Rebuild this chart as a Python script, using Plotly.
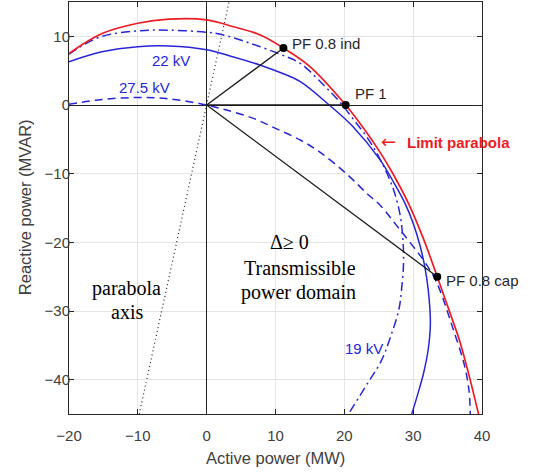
import plotly.graph_objects as go

# ---- data ----
red_x = [-20, -15.2, -10, -5.5, 0, 3.9, 7.8, 11.15, 15.0, 20.2, 22.8, 25.2, 27.0, 29.4, 31.5, 33.5, 34.3, 35.5, 36.8, 38.1, 39.5]
red_y = [7.5, 10.4, 11.9, 12.5, 12.4, 11.4, 10.2, 8.3, 5.6, 0, -3.4, -6.9, -9.9, -14.5, -19.5, -25.0, -27.3, -30.7, -34.5, -39.3, -45]

kv22_x = [-20, -15.2, -10, -5.5, 0, 3.9, 7.8, 10.4, 13.6, 17.8, 21.3, 25.2, 27.3, 28.9, 30.1, 31.0, 31.7, 32.2, 32.5, 32.2, 31.5, 30.7, 29.8]
kv22_y = [6.3, 7.75, 8.5, 8.6, 8.05, 7.0, 5.8, 4.85, 3.4, 0, -3.2, -8.0, -11.5, -14.5, -17.5, -20.5, -23.6, -27, -31.8, -35.5, -39.1, -42, -45]

kv19_x = [-20, -18.5, -15.2, -10, -5.5, 0, 2.0, 6.3, 10.4, 13.6, 17.0, 19.2, 21.4, 23.5, 25.4, 27.1, 28.1, 28.5, 28.6, 28.3, 27.9, 26.8, 25.4, 23.4, 20.6]
kv19_y = [7.4, 8.4, 10.0, 10.8, 10.9, 10.6, 10.3, 9.0, 7.5, 6.06, 2.9, 0.6, -2.2, -5.0, -8.3, -12.2, -16.0, -19.5, -23, -27, -29.9, -33.5, -37.2, -40.5, -45]

kv275_x = [-20, -15.2, -10, -5.5, -1.1, 0, 2.9, 6.8, 10.0, 13.6, 16.5, 20.4, 23.3, 25.2, 28.1, 31.5, 33.0, 33.9, 35.7, 37.4, 38.1, 38.3]
kv275_y = [0.1, 0.8, 1.1, 0.9, 0.23, 0, -0.74, -1.95, -3.4, -5.1, -6.9, -10.1, -12.9, -14.6, -18.2, -22.6, -25, -27, -32.3, -37.7, -41.5, -45]

axis_x = [-9.8, 3.25]
axis_y = [-45, 15]

pf_names = ["PF 0.8 ind", "PF 1", "PF 0.8 cap"]
pf_x = [11.15, 20.2, 33.5]
pf_y = [8.3, 0.0, -25.0]

x_ticks = [-20, -10, 0, 10, 20, 30, 40]
y_ticks = [-40, -30, -20, -10, 0, 10]

BLUE = "rgb(38,38,215)"
RED = "rgb(236,28,36)"
FONT = "Arial, Liberation Sans, sans-serif"
SERIF = "Times New Roman, Liberation Serif, serif"

fig = go.Figure()

fig.add_trace(go.Scatter(x=axis_x, y=axis_y, mode="lines",
                         line=dict(color="#222222", width=1.2, dash="1px,3px")))
fig.add_trace(go.Scatter(x=kv275_x, y=kv275_y, mode="lines", line_shape="spline",
                         line=dict(color=BLUE, width=1.5, dash="8px,5px")))
fig.add_trace(go.Scatter(x=kv19_x, y=kv19_y, mode="lines", line_shape="spline",
                         line=dict(color=BLUE, width=1.5, dash="9px,4px,2px,4px")))
fig.add_trace(go.Scatter(x=kv22_x, y=kv22_y, mode="lines", line_shape="spline",
                         line=dict(color=BLUE, width=1.5)))
fig.add_trace(go.Scatter(x=red_x, y=red_y, mode="lines", line_shape="spline",
                         line=dict(color=RED, width=1.7)))

for px, py in zip(pf_x, pf_y):
    fig.add_trace(go.Scatter(x=[0, px], y=[0, py], mode="lines",
                             line=dict(color="#1a1a1a", width=1.3)))
fig.add_trace(go.Scatter(x=pf_x, y=pf_y, mode="markers",
                         marker=dict(color="black", size=8)))

def txt(x, y, s, color="#262626", size=15, font=FONT, xanchor="left"):
    fig.add_annotation(x=x, y=y, text=s, showarrow=False, xanchor=xanchor, yanchor="middle",
                       font=dict(family=font, size=size, color=color))

txt(12.1, 9.0, pf_names[0])
txt(21.2, 1.7, pf_names[1])
txt(34.5, -25.5, pf_names[2])
txt(-5.2, 6.5, "22 kV", BLUE, xanchor="center")
txt(-9.1, 2.55, "27.5 kV", BLUE, xanchor="center")
txt(22.8, -35.5, "19 kV", BLUE, xanchor="center")
txt(25.0, -5.3, "←", RED, size=18, font="DejaVu Sans, sans-serif")
txt(28.8, -5.4, "<b>Limit parabola</b>", RED)
txt(12.0, -19.9, "Δ≥ 0", "black", 20, SERIF, "center")
txt(13.5, -23.8, "Transmissible", "black", 20, SERIF, "center")
txt(13.4, -27.3, "power domain", "black", 20, SERIF, "center")
txt(-11.7, -26.7, "parabola", "black", 20, SERIF, "center")
txt(-11.6, -30.1, "axis", "black", 20, SERIF, "center")

fig.add_annotation(x=0.499, y=-0.107, xref="paper", yref="paper", text="Active power (MW)",
                   showarrow=False, xanchor="center", yanchor="middle",
                   font=dict(family=FONT, size=16.5, color="#404040"))
fig.add_annotation(x=-0.1065, y=0.502, xref="paper", yref="paper", text="Reactive power (MVAR)",
                   showarrow=False, textangle=-90, xanchor="center", yanchor="middle",
                   font=dict(family=FONT, size=16.5, color="#404040"))

axcommon = dict(showgrid=True, gridcolor="#e4e4e4", gridwidth=1,
                zeroline=True, zerolinecolor="#222222", zerolinewidth=1,
                showline=True, linecolor="#262626", linewidth=1, mirror="ticks",
                ticks="inside", ticklen=5, tickcolor="#262626",
                tickfont=dict(family=FONT, size=15, color="#404040"))

fig.update_xaxes(range=[-20, 40], tickvals=x_ticks, ticklabelstandoff=8, **axcommon)
fig.update_yaxes(range=[-45, 15], tickvals=y_ticks, ticklabelstandoff=-5, **axcommon)

fig.update_layout(width=537, height=473, showlegend=False,
                  margin=dict(l=69, r=55, t=2, b=59),
                  plot_bgcolor="white", paper_bgcolor="white")

fig.write_html("out.html", config={"displayModeBar": False},
               post_script="document.body.style.margin='0px';")
